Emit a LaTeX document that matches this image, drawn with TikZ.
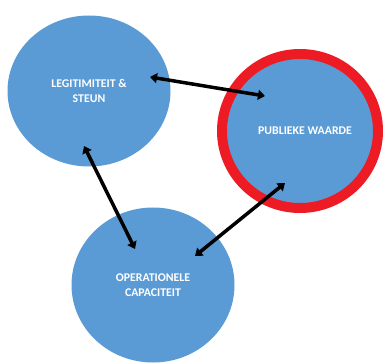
\documentclass[tikz,border=0pt]{standalone}
\usepackage{fontspec}
\setmainfont{Carlito}
\usetikzlibrary{shapes.geometric,arrows.meta,calc}
\definecolor{officeblue}{RGB}{91,155,213}
\definecolor{ringred}{RGB}{237,28,36}
\begin{document}
\begin{tikzpicture}[x=1pt,y=-1pt,
  blob/.style={ellipse,fill=officeblue,inner sep=0pt,text=white,align=center,
    font=\bfseries\fontsize{11.8}{15}\selectfont},
  link/.style={line width=3.5pt,{Triangle[width=10pt,length=7pt]}-{Triangle[width=10pt,length=7pt]}}]
\useasboundingbox (0,0) rectangle (385,363);
\node[blob,minimum width=163pt,minimum height=151pt] (leg) at (89,91) {LEGITIMITEIT \&\\STEUN};
\node[blob,draw=ringred,line width=10pt,minimum width=156pt,minimum height=154pt] (pub) at (300,131) {\hspace*{10pt}PUBLIEKE WAARDE};
\node[blob,minimum width=163pt,minimum height=155pt] (ops) at (153,285) {OPERATIONELE\\CAPACITEIT};
\draw[link] ($(leg)+(61,-14)$) -- ($(pub)+(-35,-35)$);
\draw[link] ($(leg)+(-5,55)$) -- ($(ops)+(-18,-36)$);
\draw[link] ($(pub)+(-15,52)$) -- ($(ops)+(42,-29)$);
\end{tikzpicture}
\end{document}
